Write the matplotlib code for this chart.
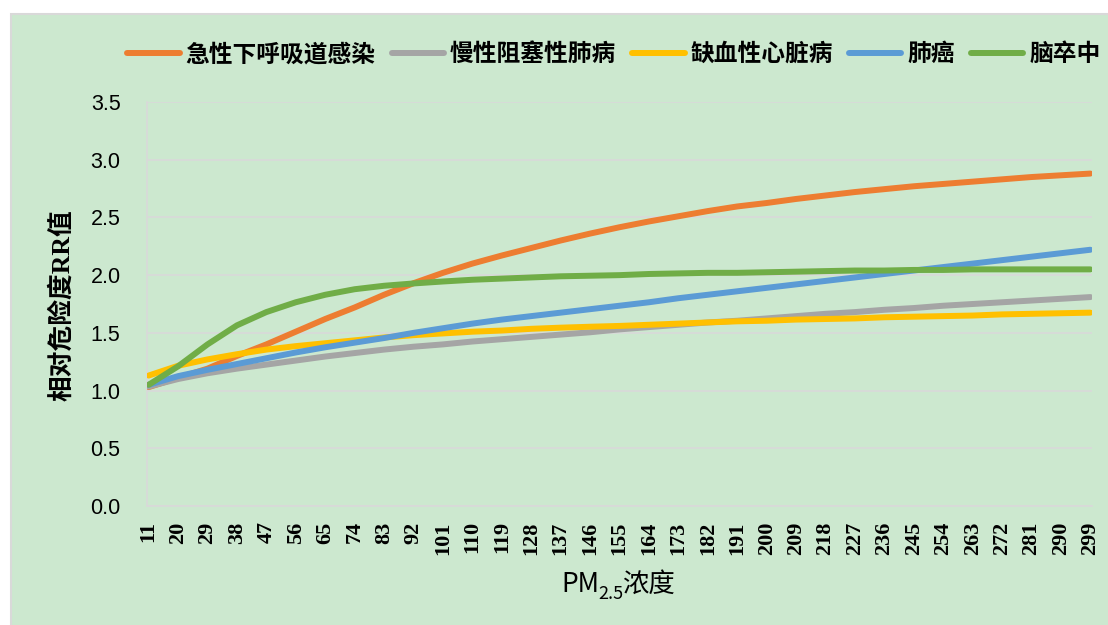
import matplotlib
matplotlib.use("Agg")
import matplotlib.pyplot as plt
from matplotlib.patches import Rectangle

# PM2.5 concentration (every 9 units from 11 to 299)
pm25 = list(range(11, 300, 9))

# Relative risk (RR) by disease
rr_alri = [1.03, 1.11, 1.19, 1.30, 1.40, 1.51, 1.62, 1.72, 1.83, 1.93, 2.02,
           2.10, 2.17, 2.235, 2.30, 2.36, 2.415, 2.465, 2.51, 2.555, 2.595, 2.625,
           2.66, 2.69, 2.72, 2.745, 2.77, 2.79, 2.81, 2.83, 2.85, 2.865, 2.88]
rr_copd = [1.035, 1.10, 1.15, 1.19, 1.225, 1.26, 1.295, 1.325, 1.355, 1.38, 1.40,
           1.425, 1.445, 1.465, 1.485, 1.505, 1.53, 1.55, 1.57, 1.59, 1.605, 1.625,
           1.645, 1.665, 1.68, 1.70, 1.715, 1.735, 1.75, 1.765, 1.78, 1.795, 1.81]
rr_ihd = [1.13, 1.215, 1.27, 1.315, 1.355, 1.385, 1.41, 1.435, 1.46, 1.48, 1.495,
          1.51, 1.52, 1.535, 1.545, 1.553, 1.56, 1.57, 1.58, 1.59, 1.60, 1.605,
          1.615, 1.62, 1.625, 1.635, 1.64, 1.645, 1.65, 1.66, 1.665, 1.67, 1.675]
rr_lung = [1.05, 1.125, 1.18, 1.23, 1.28, 1.33, 1.375, 1.415, 1.455, 1.50, 1.54,
           1.58, 1.615, 1.645, 1.675, 1.705, 1.735, 1.765, 1.80, 1.83, 1.86, 1.89,
           1.92, 1.95, 1.98, 2.01, 2.04, 2.07, 2.10, 2.13, 2.16, 2.19, 2.22]
rr_stroke = [1.05, 1.21, 1.40, 1.565, 1.68, 1.765, 1.83, 1.878, 1.908, 1.928, 1.945,
             1.96, 1.97, 1.98, 1.99, 1.995, 2.00, 2.01, 2.015, 2.02, 2.02, 2.025,
             2.03, 2.035, 2.04, 2.04, 2.045, 2.045, 2.05, 2.05, 2.05, 2.05, 2.05]

series_names = ["急性下呼吸道感染", "慢性阻塞性肺病", "缺血性心脏病", "肺癌", "脑卒中"]
series_values = [rr_alri, rr_copd, rr_ihd, rr_lung, rr_stroke]
series_colors = ["#ED7D31", "#A5A5A5", "#FFC000", "#5B9BD5", "#70AD47"]

y_ticks = [0.0, 0.5, 1.0, 1.5, 2.0, 2.5, 3.0, 3.5]

W, H = 1108, 625
BG = "#CCE8CF"
GRID = "#D9D9D9"
CJK = "Noto Sans CJK SC"

fig = plt.figure(figsize=(W / 100, H / 100), dpi=100)
fig.patch.set_facecolor("white")

# chart area panel
fig.patches.append(Rectangle((11 / W, -0.2), 1.2, (H - 14) / H + 0.2,
                             transform=fig.transFigure, facecolor=BG,
                             edgecolor=GRID, linewidth=1.5, zorder=-5))

ax = fig.add_axes([147 / W, 1 - 506 / H, 945 / W, 404 / H])
ax.set_zorder(2)
ax.set_facecolor("none")

for name, vals, col in zip(series_names, series_values, series_colors):
    ax.plot(pm25, vals, color=col, linewidth=4.3, label=name,
            solid_capstyle="round", solid_joinstyle="round", zorder=3)

ax.set_xlim(10.5, 299.5)
ax.set_ylim(0, 3.5)
ax.set_yticks(y_ticks)
ax.set_yticklabels([f"{v:.1f}" for v in y_ticks], family="Liberation Sans",
                   fontsize=15.5, color="#000000")
ax.set_xticks(pm25)
ax.set_xticklabels([str(v) for v in pm25], rotation=90, family="Liberation Serif",
                   fontweight="bold", fontsize=16, color="#000000")
ax.tick_params(axis="y", length=0, pad=19)
ax.tick_params(axis="x", length=0, pad=11)

ax.grid(axis="y", color=GRID, linewidth=1.2, zorder=1)
ax.set_axisbelow(True)
for s in ["top", "right"]:
    ax.spines[s].set_visible(False)
ax.spines["left"].set_color(GRID)
ax.spines["left"].set_linewidth(1.2)
ax.spines["bottom"].set_color(GRID)
ax.spines["bottom"].set_linewidth(1.2)

# y-axis title
fig.text(62 / W, 1 - 305 / H, "相对危险度RR值", rotation=90, ha="center", va="center",
         family=["Liberation Serif", CJK], fontweight="bold", fontsize=18.5)

# legend
handles, labels = ax.get_legend_handles_labels()
leg = fig.legend(handles, labels, ncol=5, loc="center",
                 bbox_to_anchor=(614 / W, 1 - 54 / H), frameon=False,
                 prop={"family": CJK, "weight": "bold", "size": 17.1},
                 handlelength=2.2, handletextpad=0.25, columnspacing=0.68,
                 borderaxespad=0)

# x-axis title with subscript
renderer = fig.canvas.get_renderer()
base_y = 1 - 592 / H
x0 = 561
t1 = fig.text(x0 / W, base_y, "PM", family=CJK, fontsize=19, va="baseline", ha="left")
w1 = t1.get_window_extent(renderer).width
t2 = fig.text((x0 + w1 - 1) / W, base_y - 7 / H, "2.5", family=CJK, fontsize=13,
              va="baseline", ha="left")
w2 = t2.get_window_extent(renderer).width
fig.text((x0 + w1 + w2 - 2) / W, base_y, "浓度", family=CJK, fontsize=19,
         va="baseline", ha="left")

fig.savefig("out.png", dpi=100, facecolor=fig.get_facecolor())
